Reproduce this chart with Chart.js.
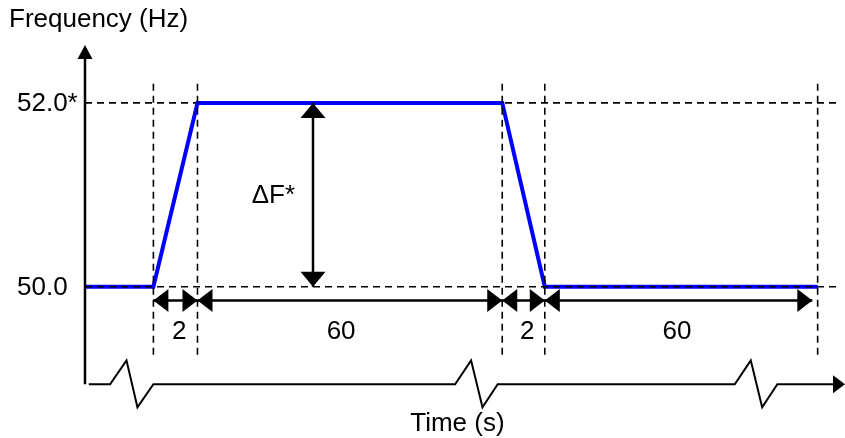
<!DOCTYPE html>
<html>
<head>
<meta charset="utf-8">
<script src="https://cdn.jsdelivr.net/npm/chart.js@4.4.0/dist/chart.umd.min.js"></script>
<style>
  html, body { margin: 0; padding: 0; background: #fff; }
  #wrap { width: 845px; height: 438px; }
</style>
</head>
<body>
<div id="wrap"><canvas id="freq-chart"></canvas></div>
<script>
// frequency step, x is a schematic time position (the time axis is broken)
var stepX = [0, 9, 14.8, 54.9, 60.5, 96.4];
var stepHz = [50, 50, 52, 52, 50, 50];

// reference levels
var levels = [50, 52];
var levelLabels = ["50.0", "52.0*"];

// vertical guides where the profile changes
var guideX = [9, 14.8, 54.9, 60.5, 96.4];
var guideLow = 49.26, guideHigh = 52.22;

// durations (s) marked under the profile
var spanFrom = [9, 14.8, 54.9, 60.5];
var spanTo = [14.8, 54.9, 60.5, 95.7];
var spanText = ["2", "60", "2", "60"];
var spanTextX = [12.4, 33.7, 58.2, 77.9];
var spanY = 49.85, spanTextY = 49.43;

// time axis with its break marks
var timeX = [0.5, 3.3, 5.46, 6.9, 9.0, 48.7, 50.8, 52.3, 54.3, 85.5, 87.6, 89.1, 91.1, 98.6];
var timeY = [48.94, 48.94, 49.2, 48.69, 48.94, 48.94, 49.2, 48.69, 48.94, 48.94, 49.2, 48.69, 48.94, 48.94];
var timeEnd = 100;
var axisTop = 52.63;

// delta F marker
var deltaX = 30;

var FONT = '26px "Liberation Sans", Arial, sans-serif';

function pts(xs, ys) {
  var out = [];
  for (var i = 0; i < xs.length; i++) out.push({x: xs[i], y: ys[i]});
  return out;
}

function segments(list) {
  // join segments into one dataset, split by null points
  var out = [];
  list.forEach(function (s) {
    out.push({x: s[0], y: s[1]}, {x: s[2], y: s[3]}, {x: s[2], y: null});
  });
  return out;
}

var guideSegs = guideX.map(function (x) { return [x, guideLow, x, guideHigh]; });
var spanSegs = spanFrom.map(function (a, i) { return [a, spanY, spanTo[i], spanY]; });

function head(ctx, tx, ty, dx, dy, len, half) {
  // filled triangle with tip at (tx,ty) pointing along (dx,dy)
  var bx = tx - dx * len, by = ty - dy * len;
  ctx.beginPath();
  ctx.moveTo(tx, ty);
  ctx.lineTo(bx - dy * half, by + dx * half);
  ctx.lineTo(bx + dy * half, by - dx * half);
  ctx.closePath();
  ctx.fill();
}

var marks = {
  id: 'marks',
  afterDatasetsDraw: function (chart) {
    var ctx = chart.ctx, sx = chart.scales.x, sy = chart.scales.y, area = chart.chartArea;
    var px = function (v) { return sx.getPixelForValue(v); };
    var py = function (v) { return sy.getPixelForValue(v); };
    ctx.save();
    ctx.fillStyle = '#000';

    // axis arrowheads
    head(ctx, px(0), py(axisTop), 0, -1, 14, 7.5);
    head(ctx, px(timeEnd), py(timeY[timeY.length - 1]), 1, 0, 12, 9);

    // duration arrows
    var y = py(spanY);
    for (var i = 0; i < spanFrom.length; i++) {
      head(ctx, px(spanFrom[i]), y, -1, 0, 15, 11.5);
      head(ctx, px(spanTo[i]), y, 1, 0, 15, 11.5);
    }
    // delta F arrow
    head(ctx, px(deltaX), py(52), 0, -1, 15, 12.5);
    head(ctx, px(deltaX), py(50), 0, 1, 15, 12.5);

    ctx.font = FONT;
    ctx.textBaseline = 'alphabetic';

    ctx.textAlign = 'center';
    for (var j = 0; j < spanText.length; j++) {
      ctx.fillText(spanText[j], px(spanTextX[j]), py(spanTextY));
    }
    ctx.textAlign = 'right';
    ctx.fillText('\u0394F*', px(deltaX) - 18, py(50.91));

    ctx.textAlign = 'left';
    for (var k = 0; k < levels.length; k++) {
      ctx.fillText(levelLabels[k], area.left - 68, py(levels[k]) + 8);
    }
    ctx.fillText('Frequency (Hz)', area.left - 76, area.top - 18);
    ctx.textAlign = 'center';
    ctx.fillText('Time (s)', px(49), area.bottom + 21);
    ctx.restore();
  }
};

var dashed = { borderColor: '#000', borderWidth: 1.6, borderDash: [7, 5] };

new Chart(document.getElementById('freq-chart'), {
  type: 'line',
  data: {
    datasets: [
      Object.assign({ label: 'level 52', data: segments([[0, levels[1], 99.3, levels[1]]]), order: 4 }, dashed),
      {
        label: 'Frequency',
        data: pts(stepX, stepHz),
        borderColor: '#0000ff',
        borderWidth: 4,
        order: 3
      },
      Object.assign({ label: 'level 50', data: segments([[0, levels[0], 99.3, levels[0]]]), order: 1 }, dashed),
      Object.assign({ label: 'guides', data: segments(guideSegs), order: 2 }, dashed),
      {
        label: 'spans',
        data: segments(spanSegs),
        borderColor: '#000',
        borderWidth: 2.5,
        order: 1
      },
      {
        label: 'delta',
        data: [{x: deltaX, y: 50}, {x: deltaX, y: 52}],
        borderColor: '#000',
        borderWidth: 2.5,
        order: 1
      },
      {
        label: 'freq axis',
        data: [{x: 0, y: timeY[0]}, {x: 0, y: axisTop - 0.1}],
        borderColor: '#000',
        borderWidth: 2.5,
        order: 1
      },
      {
        label: 'time axis',
        data: pts(timeX, timeY),
        borderColor: '#000',
        borderWidth: 2,
        order: 1
      }
    ]
  },
  options: {
    responsive: true,
    maintainAspectRatio: false,
    animation: false,
    devicePixelRatio: 1,
    layout: { padding: { left: 85, right: 0, top: 45, bottom: 28 } },
    elements: { point: { radius: 0 }, line: { tension: 0, borderCapStyle: 'butt' } },
    datasets: { line: { spanGaps: false, clip: false } },
    scales: {
      x: { type: 'linear', min: 0, max: 100, display: false },
      y: { min: 48.66, max: 52.63, display: false }
    },
    plugins: { legend: { display: false }, tooltip: { enabled: false } }
  },
  plugins: [marks]
});
</script>
</body>
</html>
